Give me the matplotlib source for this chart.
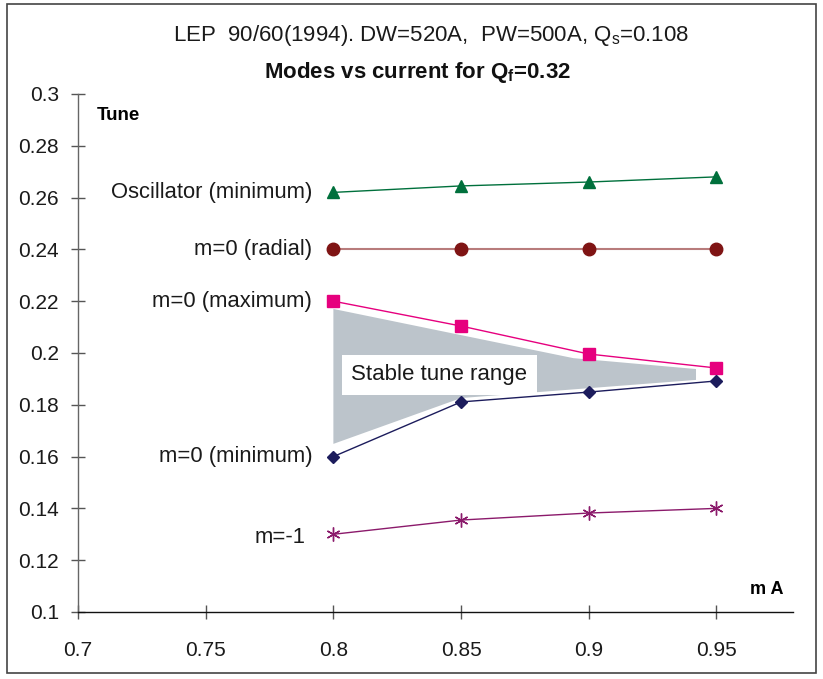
import matplotlib.pyplot as plt
from matplotlib.patches import Polygon, Rectangle

plt.rcParams['font.family'] = ['Liberation Sans', 'DejaVu Sans']
plt.rcParams['mathtext.fontset'] = 'custom'
plt.rcParams['mathtext.rm'] = 'Liberation Sans'
plt.rcParams['mathtext.it'] = 'Liberation Sans'
plt.rcParams['mathtext.bf'] = 'Liberation Sans:bold'

# Beam current (mA) and tune values of each mode
current = [0.8, 0.85, 0.9, 0.95]
osc_min = [0.262, 0.2645, 0.266, 0.268]
m0_radial = [0.24, 0.24, 0.24, 0.24]
m0_max = [0.22, 0.2104, 0.1996, 0.1942]
m0_min = [0.16, 0.1811, 0.1849, 0.1892]
m_minus1 = [0.13, 0.1355, 0.1382, 0.14]

# outline of the stable tune band
band_x = [0.8, 0.894, 0.942, 0.942, 0.85, 0.8]
band_y = [0.217, 0.198, 0.1938, 0.1896, 0.1826, 0.1649]

fig = plt.figure(figsize=(8.23, 6.79), dpi=100)
ax = fig.add_axes([0.0948, 0.0987, 0.8688, 0.7629])

ax.add_patch(Polygon(list(zip(band_x, band_y)), closed=True,
                     facecolor='#bcc4cb', edgecolor='none', zorder=1))

ax.plot(current, osc_min, color='#00703c', lw=1, marker='^', ms=9, zorder=3)
ax.plot(current, m0_radial, color='#b87c7c', lw=1.5, zorder=2)
ax.plot(current, m0_radial, color='#7f1414', lw=0, marker='o', ms=9, zorder=3)
ax.plot(current, m0_max, color='#e6007e', lw=1, marker='s', ms=8, zorder=3)
ax.plot(current, m0_min, color='#1c1c5c', lw=1, marker='D', ms=6.5, zorder=3)
ax.plot(current, m_minus1, color='#8b1a6b', lw=1, marker=(6, 2, 0), ms=10,
        mew=1, zorder=3)

lbl = dict(ha='right', va='center', fontsize=15.8, color='#1a1a1a')
ax.text(0.7917, osc_min[0], 'Oscillator (minimum)', **lbl)
ax.text(0.7917, m0_radial[0], 'm=0 (radial)', **lbl)
ax.text(0.7917, m0_max[0], 'm=0 (maximum)', **lbl)
ax.text(0.7917, m0_min[0], 'm=0 (minimum)', **lbl)
ax.text(0.789, 0.1288, 'm=-1', **lbl)

ax.text(0.8415, 0.1915, 'Stable tune range', ha='center', va='center',
        fontsize=16, color='#1a1a1a', zorder=5,
        bbox=dict(boxstyle='square,pad=0.42', facecolor='white', edgecolor='none'))

ax.text(0.7074, 0.2915, 'Tune', fontsize=13.5, fontweight='bold', va='center')
ax.text(0.9696, 0.1085, 'm A', fontsize=13, fontweight='bold', va='center',
        ha='center')

ax.set_xlim(0.7, 0.98)
ax.set_ylim(0.1, 0.3)
ax.set_xticks([0.7, 0.75, 0.8, 0.85, 0.9, 0.95])
ax.set_xticklabels(['0.7', '0.75', '0.8', '0.85', '0.9', '0.95'])
ax.set_yticks([0.1, 0.12, 0.14, 0.16, 0.18, 0.2, 0.22, 0.24, 0.26, 0.28, 0.3])
ax.set_yticklabels(['0.1', '0.12', '0.14', '0.16', '0.18', '0.2', '0.22',
                    '0.24', '0.26', '0.28', '0.3'])
ax.tick_params(direction='inout', length=9.5, width=1, color='#555555',
               labelsize=15, labelcolor='#1a1a1a')
ax.tick_params(axis='x', pad=16)
ax.tick_params(axis='y', pad=9)
for s in ['top', 'right']:
    ax.spines[s].set_visible(False)
ax.spines['left'].set_color('#666666')
ax.spines['bottom'].set_color('#111111')
ax.spines['left'].set_linewidth(1)
ax.spines['bottom'].set_linewidth(1)

fig.text(0.524, 0.947, r'LEP  90/60(1994). DW=520A,  PW=500A, Q$_\mathrm{s}$=0.108',
         ha='center', va='center', fontsize=16, color='#1a1a1a')
fig.text(0.507, 0.893, r'Modes vs current for $\mathbf{Q_f}$=0.32',
         ha='center', va='center', fontsize=16, fontweight='bold', color='#111111')

# outer chart frame
fig.patches.append(Rectangle((0.009, 0.009), 0.982, 0.985, transform=fig.transFigure,
                             fill=False, edgecolor='#444444', lw=1.2))

fig.savefig('out.png', dpi=100)
